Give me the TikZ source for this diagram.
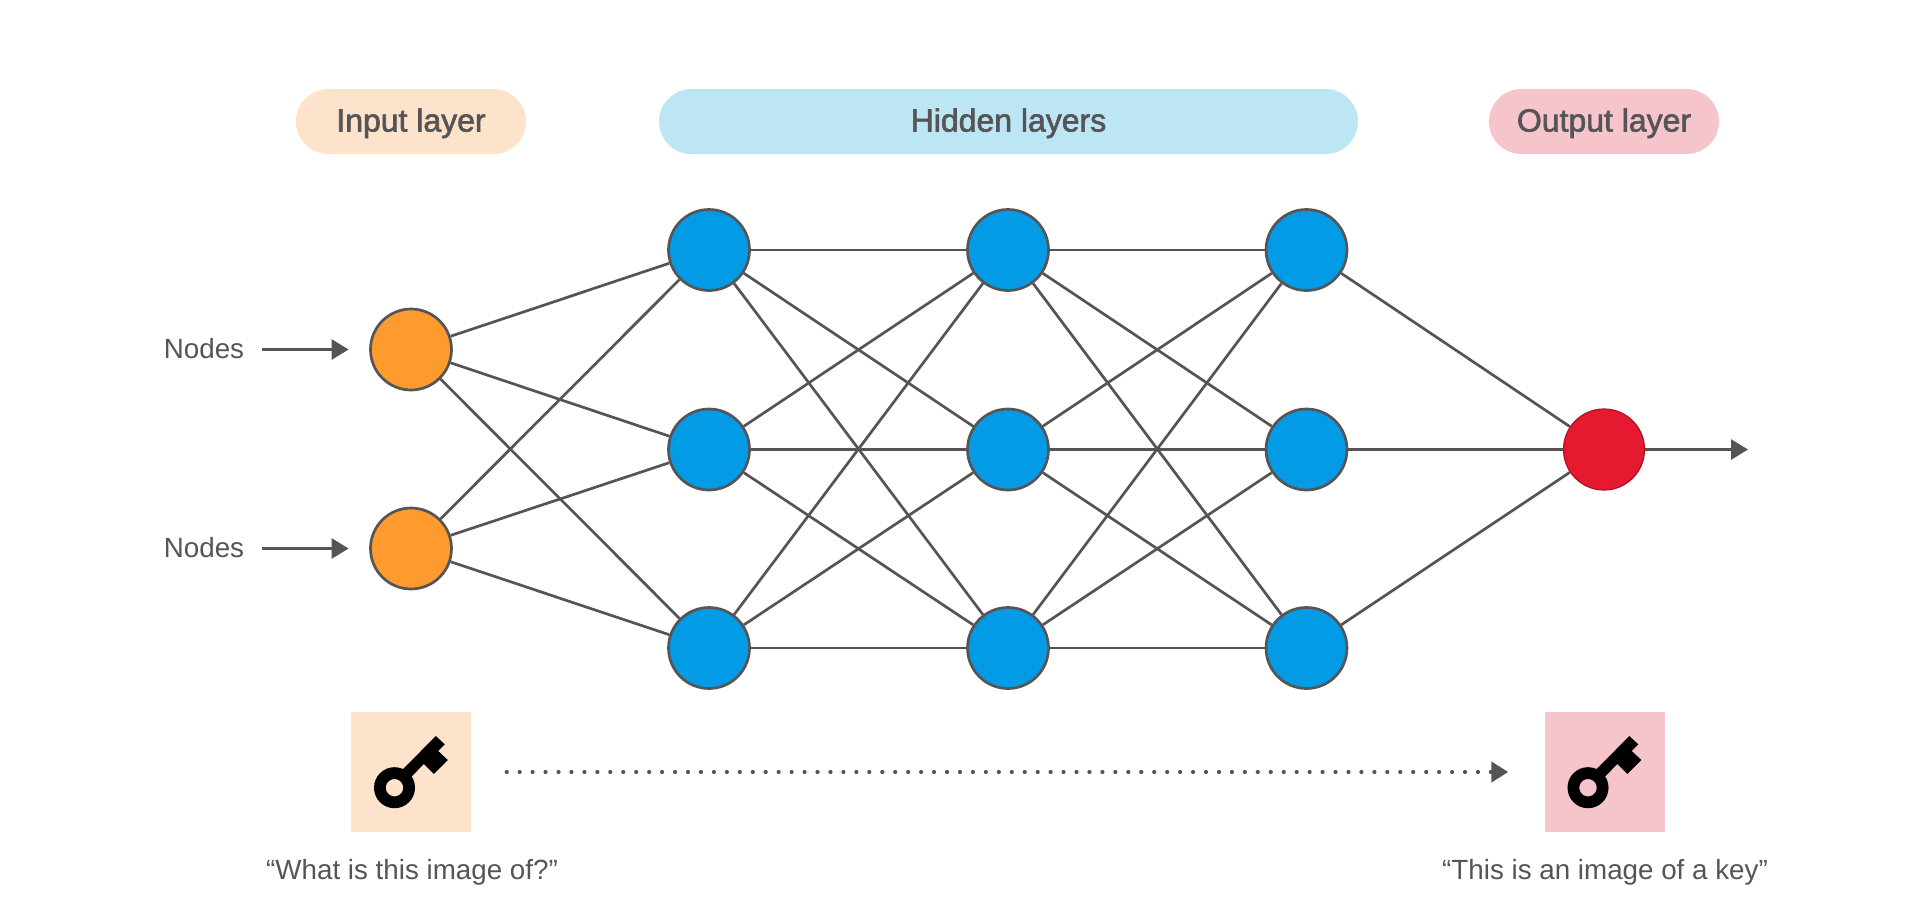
\documentclass[tikz,border=0pt]{standalone}
\usepackage{fontspec}
\setmainfont{Liberation Sans}
\newfontfamily\pillfont[RawFeature={embolden=2}]{Liberation Sans}
\usetikzlibrary{arrows.meta,positioning}
\definecolor{ink}{HTML}{555557}
\definecolor{inorange}{HTML}{FF9A2E}
\definecolor{hidblue}{HTML}{039BE5}
\definecolor{outred}{HTML}{E5192F}
\definecolor{pillorange}{HTML}{FDE3CB}
\definecolor{pillblue}{HTML}{BDE6F4}
\definecolor{pillpink}{HTML}{F6C4CB}
\tikzset{keyicon/.pic={
  \fill[black,shift={(-.165,-.157)}] (.413,.517) -- (.503,.433) -- (.437,.367) -- (.533,.277) -- (.393,.137) -- (.293,.237) -- (.15,.09) -- (.08,.18) -- cycle;
  \draw[black,line width=.118cm,shift={(-.165,-.157)}] (0,0) circle (.146);
}}
\begin{document}
\begin{tikzpicture}[ele/.style={circle,draw=ink,line width=.027cm,minimum size=.81cm,inner sep=0pt},
  inp/.style={ele,fill=inorange},hid/.style={ele,fill=hidblue},
  res/.style={ele,fill=outred,draw=outred!75!black,line width=.012cm},
  lnk/.style={draw=ink,line width=.027cm},
  arw/.style={lnk,-{Triangle[length=.17cm,width=.2cm]}},
  pill/.style={minimum height=.65cm,rounded corners=.325cm,inner sep=0pt,text=ink,text height=5.7pt,text depth=0pt,font=\pillfont\fontsize{9.1}{11}\selectfont},
  tile/.style={minimum size=1.2cm,inner sep=0pt},
  txt/.style={inner sep=0pt,text=ink,text height=5.1pt,text depth=0pt,font=\fontsize{7.9}{10}\selectfont}]
  \useasboundingbox (0,0) rectangle (19.2,9.14);

  \node[pill,fill=pillorange,minimum width=2.3cm] (pin) at (4.11,7.925) {Input layer};
  \node[pill,fill=pillblue,minimum width=6.99cm] (phid) at (10.085,7.925) {Hidden layers};
  \node[pill,fill=pillpink,minimum width=2.3cm] (pout) at (16.04,7.925) {Output layer};

  \node[inp] (a1) at (4.11,5.645) {};
  \node[inp] (a2) at (4.11,3.655) {};

  \node[hid] (b1) at (7.09,6.64) {};
  \node[hid] (b2) at (7.09,4.645) {};
  \node[hid] (b3) at (7.09,2.66) {};

  \node[hid] (c1) at (10.08,6.64) {};
  \node[hid] (c2) at (10.08,4.645) {};
  \node[hid] (c3) at (10.08,2.66) {};

  \node[hid] (d1) at (13.065,6.64) {};
  \node[hid] (d2) at (13.065,4.645) {};
  \node[hid] (d3) at (13.065,2.66) {};

  \node[res] (e1) at (16.04,4.645) {};
  \coordinate (etip) at (17.48,4.645);

  \node[txt] (na) at (2.04,5.645) {Nodes};
  \node[txt] (nb) at (2.04,3.655) {Nodes};

  \draw[arw,shorten <=.17cm,shorten >=.205cm] (na.east) -- (a1.west);
  \draw[arw,shorten <=.17cm,shorten >=.205cm] (nb.east) -- (a2.west);

  \draw[lnk] (a1) -- (b1);
  \draw[lnk] (a1) -- (b2);
  \draw[lnk] (a1) -- (b3);
  \draw[lnk] (a2) -- (b1);
  \draw[lnk] (a2) -- (b2);
  \draw[lnk] (a2) -- (b3);

  \draw[lnk] (b1) -- (c1);
  \draw[lnk] (b1) -- (c2);
  \draw[lnk] (b1) -- (c3);
  \draw[lnk] (b2) -- (c1);
  \draw[lnk] (b2) -- (c2);
  \draw[lnk] (b2) -- (c3);
  \draw[lnk] (b3) -- (c1);
  \draw[lnk] (b3) -- (c2);
  \draw[lnk] (b3) -- (c3);

  \draw[lnk] (c1) -- (d1);
  \draw[lnk] (c1) -- (d2);
  \draw[lnk] (c1) -- (d3);
  \draw[lnk] (c2) -- (d1);
  \draw[lnk] (c2) -- (d2);
  \draw[lnk] (c2) -- (d3);
  \draw[lnk] (c3) -- (d1);
  \draw[lnk] (c3) -- (d2);
  \draw[lnk] (c3) -- (d3);

  \draw[lnk] (d1) -- (e1);
  \draw[lnk] (d2) -- (e1);
  \draw[lnk] (d3) -- (e1);
  \draw[arw] (e1) -- (etip);

  \node[tile,fill=pillorange] (sqa) at (4.11,1.42) {};
  \node[tile,fill=pillpink] (sqb) at (16.045,1.42) {};
  \pic at (sqa) {keyicon};
  \pic at (sqb) {keyicon};
  \draw[lnk,line width=.042cm,line cap=round,dash pattern=on 0pt off .1295cm,shorten <=.35cm,shorten >=.355cm,-{Triangle[length=.17cm,width=.2cm]}] (sqa) -- (sqb);

  \node[txt,text height=5.65pt] (capa) at (4.12,.44) {“What is this image of?”};
  \node[txt,text height=5.65pt] (capb) at (16.05,.44) {“This is an image of a key”};
\end{tikzpicture}
\end{document}
